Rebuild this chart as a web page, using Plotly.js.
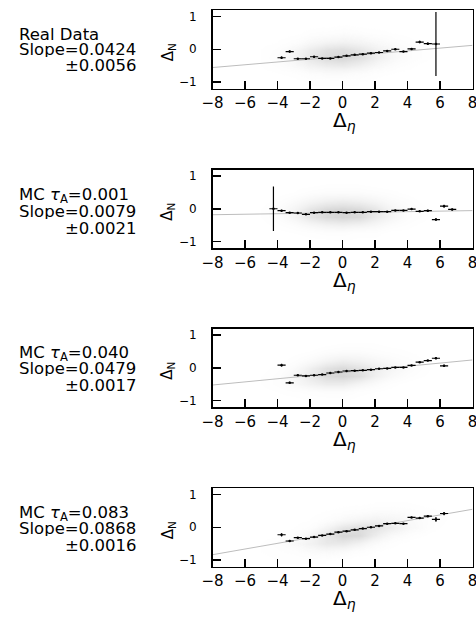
<!DOCTYPE html>
<html>
<head>
<meta charset="utf-8">
<script src="https://cdn.plot.ly/plotly-3.0.1.min.js"></script>
<style>html,body{margin:0;padding:0;background:#fff;}#chart{width:476px;height:618px;}</style>
</head>
<body>
<div id="chart"></div>
<script>
// ---------------- DATA ----------------
const panelLabels = ["Real Data", "MC <i>τ</i><sub>A</sub>=0.001", "MC <i>τ</i><sub>A</sub>=0.040", "MC <i>τ</i><sub>A</sub>=0.083"];
const slopeLabels = ["Slope=0.0424", "Slope=0.0079", "Slope=0.0479", "Slope=0.0868"];
const slopeErrLabels = ["±0.0056", "±0.0021", "±0.0017", "±0.0016"];

const fitSlopes = [0.0424, 0.0079, 0.0479, 0.0868];
const fitIntercepts = [-0.22, -0.12, -0.145, -0.145];

const binHalfWidth = 0.25;

const p1X = [-3.75,-3.25,-2.75,-2.25,-1.75,-1.25,-0.75,-0.25,0.25,0.75,1.25,1.75,2.25,2.75,3.25,3.75,4.25,4.75,5.25,5.75];
const p1Y = [-0.26,-0.07,-0.29,-0.29,-0.23,-0.28,-0.28,-0.24,-0.20,-0.17,-0.15,-0.12,-0.10,-0.05,0.00,-0.07,0.01,0.22,0.17,0.16];
const p1Err = [0.04,0.03,0.02,0.02,0.02,0.01,0.01,0.01,0.01,0.01,0.01,0.01,0.01,0.02,0.02,0.02,0.03,0.04,0.04,0.98];

const p2X = [-4.25,-3.75,-3.25,-2.75,-2.25,-1.75,-1.25,-0.75,-0.25,0.25,0.75,1.25,1.75,2.25,2.75,3.25,3.75,4.25,4.75,5.25,5.75,6.25,6.75];
const p2Y = [0.00,-0.06,-0.12,-0.13,-0.17,-0.12,-0.11,-0.11,-0.11,-0.12,-0.11,-0.11,-0.09,-0.09,-0.09,-0.05,-0.05,-0.01,-0.08,-0.06,-0.33,0.08,-0.02];
const p2Err = [0.68,0.03,0.02,0.01,0.01,0.01,0.01,0.01,0.01,0.01,0.01,0.01,0.01,0.01,0.01,0.01,0.01,0.02,0.02,0.03,0.04,0.04,0.03];

const p3X = [-3.75,-3.25,-2.75,-2.25,-1.75,-1.25,-0.75,-0.25,0.25,0.75,1.25,1.75,2.25,2.75,3.25,3.75,4.25,4.75,5.25,5.75,6.25];
const p3Y = [0.08,-0.46,-0.23,-0.25,-0.23,-0.21,-0.16,-0.13,-0.10,-0.09,-0.08,-0.06,-0.03,-0.02,0.01,0.01,0.07,0.17,0.22,0.29,0.06];
const p3Err = [0.04,0.03,0.02,0.01,0.01,0.01,0.01,0.01,0.01,0.01,0.01,0.01,0.01,0.01,0.01,0.01,0.02,0.02,0.02,0.03,0.03];

const p4X = [-3.75,-3.25,-2.75,-2.25,-1.75,-1.25,-0.75,-0.25,0.25,0.75,1.25,1.75,2.25,2.75,3.25,3.75,4.25,4.75,5.25,5.75,6.25];
const p4Y = [-0.23,-0.42,-0.32,-0.35,-0.30,-0.25,-0.21,-0.15,-0.12,-0.08,-0.04,0.00,0.04,0.11,0.12,0.11,0.30,0.28,0.34,0.24,0.42];
const p4Err = [0.05,0.03,0.02,0.01,0.01,0.01,0.01,0.01,0.01,0.01,0.01,0.01,0.01,0.01,0.01,0.01,0.02,0.02,0.03,0.07,0.05];

// Scatter-cloud density (estimated), grid centres
const cloudX = [-6,-5,-4,-3,-2,-1,0,1,2,3,4,5,6,7];
const cloudY = [-1.0,-0.75,-0.5,-0.25,0,0.25,0.5,0.75,1.0];
const cloud1 = [
 [0,0,0,.05,.1,.1,.1,.1,.05,0,0,0,0,0],
 [0,.05,.1,.15,.25,.3,.3,.25,.15,.1,.05,0,0,0],
 [0,.1,.2,.35,.5,.6,.65,.55,.4,.25,.15,.05,0,0],
 [.05,.1,.25,.45,.7,.85,.9,.8,.6,.4,.25,.15,.05,0],
 [.05,.1,.2,.4,.6,.75,.8,.7,.55,.4,.25,.15,.05,0],
 [0,.05,.1,.2,.35,.45,.5,.45,.35,.25,.15,.05,0,0],
 [0,0,.05,.05,.15,.2,.25,.2,.15,.1,.05,0,0,0],
 [0,0,0,0,.05,.05,.1,.05,.05,.05,0,0,0,0],
 [0,0,0,0,0,0,0,0,0,0,0,0,0,0]
];
const cloud2 = [
 [0,0,0,0,.05,.05,.1,.05,.05,0,0,0,0,0],
 [0,0,.05,.1,.15,.2,.2,.15,.15,.05,.05,0,0,0],
 [0,.05,.15,.25,.4,.5,.55,.5,.4,.25,.15,.05,0,0],
 [.05,.1,.25,.45,.7,.85,.9,.85,.65,.45,.25,.15,.05,0],
 [.05,.1,.25,.45,.7,.85,.9,.85,.7,.45,.25,.15,.05,0],
 [0,.05,.15,.3,.45,.55,.6,.55,.45,.3,.2,.05,0,0],
 [0,0,.05,.1,.2,.25,.25,.25,.2,.15,.05,0,0,0],
 [0,0,0,.05,.05,.1,.1,.1,.05,0,0,0,0,0],
 [0,0,0,0,0,0,0,0,0,0,0,0,0,0]
];
const cloud3 = [
 [0,0,.05,.05,.1,.1,.1,.05,0,0,0,0,0,0],
 [0,.05,.1,.15,.2,.25,.25,.15,.1,.05,0,0,0,0],
 [0,.1,.2,.35,.5,.6,.6,.45,.3,.15,.05,0,0,0],
 [.05,.1,.2,.4,.65,.85,.9,.8,.55,.35,.2,.1,0,0],
 [0,.05,.15,.3,.55,.75,.85,.75,.6,.45,.3,.15,.05,0],
 [0,0,.05,.15,.3,.45,.55,.5,.4,.3,.2,.1,.05,0],
 [0,0,0,.05,.1,.2,.25,.25,.2,.15,.1,.05,0,0],
 [0,0,0,0,0,.05,.1,.1,.1,.05,.05,0,0,0],
 [0,0,0,0,0,0,0,0,0,0,0,0,0,0]
];
const cloud4 = [
 [0,.05,.1,.1,.1,.1,.05,0,0,0,0,0,0,0],
 [.05,.1,.15,.2,.3,.35,.3,.2,.1,.05,0,0,0,0],
 [.05,.1,.2,.35,.5,.65,.65,.5,.3,.15,.05,0,0,0],
 [0,.05,.1,.2,.45,.7,.9,.85,.6,.35,.2,.1,0,0],
 [0,0,.05,.1,.2,.45,.7,.8,.75,.6,.4,.25,.1,0],
 [0,0,0,.05,.1,.2,.35,.45,.5,.45,.35,.25,.15,.05],
 [0,0,0,0,.05,.1,.15,.2,.25,.25,.2,.15,.1,0],
 [0,0,0,0,0,0,.05,.05,.1,.1,.1,.05,.05,0],
 [0,0,0,0,0,0,0,0,0,0,0,0,0,0]
];

const xTickVals = [-8,-6,-4,-2,0,2,4,6,8];
const yTickVals = [-1,0,1];
const xRange = [-8, 8];
const yRange = [-1.2, 1.2];

// ---------------- LAYOUT HELPERS ----------------
const W = 476, H = 618;
const fx = p => p / W;
const fy = p => 1 - p / H;
const plotLeft = 212.5, plotRight = 472.5, plotH = 78.5;
const panelTops = [10, 169.5, 328.5, 488];
const textCenters = [[34, 49.5, 65.5], [195, 212, 228.5], [353, 368.5, 385.5], [513, 528.5, 545]];
const FONT = "DejaVu Sans, Arial, sans-serif";

const profX = [p1X, p2X, p3X, p4X];
const profY = [p1Y, p2Y, p3Y, p4Y];
const profE = [p1Err, p2Err, p3Err, p4Err];
const clouds = [cloud1, cloud2, cloud3, cloud4];

const traces = [];
const layout = {
  width: W, height: H,
  margin: {l: 0, r: 0, t: 0, b: 0},
  paper_bgcolor: "#ffffff", plot_bgcolor: "#ffffff",
  showlegend: false,
  font: {family: FONT, color: "#000"},
  annotations: []
};

for (let i = 0; i < 4; i++) {
  const n = i === 0 ? "" : String(i + 1);
  const xa = "x" + n, ya = "y" + n;
  traces.push({
    type: "heatmap", x: cloudX, y: cloudY, z: clouds[i],
    xaxis: xa, yaxis: ya, zmin: 0, zmax: 1, zsmooth: "best",
    colorscale: [[0, "rgba(255,255,255,0)"], [1, "#cccccc"]],
    showscale: false, hoverinfo: "skip"
  });
  traces.push({
    type: "scatter", mode: "lines", xaxis: xa, yaxis: ya,
    x: xRange, y: xRange.map(v => fitIntercepts[i] + fitSlopes[i] * v),
    line: {color: "#bdbdbd", width: 1}, hoverinfo: "skip", cliponaxis: true
  });
  traces.push({
    type: "scatter", mode: "markers", xaxis: xa, yaxis: ya,
    x: profX[i], y: profY[i],
    marker: {size: 2.5, color: "#000"},
    error_x: {type: "constant", value: binHalfWidth, width: 0, thickness: 1.2, color: "#000"},
    error_y: {type: "data", array: profE[i], width: 0, thickness: 1.2, color: "#000"},
    cliponaxis: true
  });

  const top = panelTops[i];
  layout["xaxis" + n] = {
    domain: [fx(plotLeft), fx(plotRight)], anchor: ya, range: xRange,
    tickvals: xTickVals, ticks: "inside", ticklen: 8, tickwidth: 1.5, tickcolor: "#000",
    showline: true, linewidth: 1.5, linecolor: "#000", mirror: true,
    showgrid: false, zeroline: false, fixedrange: true,
    ticklabeloverflow: "allow",
    tickfont: {family: FONT, size: 15, color: "#000"}
  };
  layout["yaxis" + n] = {
    domain: [fy(top + plotH), fy(top)], anchor: xa, range: yRange,
    tickvals: yTickVals, ticks: "inside", ticklen: 8, tickwidth: 1.5, tickcolor: "#000",
    showline: true, linewidth: 1.5, linecolor: "#000", mirror: true,
    showgrid: false, zeroline: false, fixedrange: true,
    ticklabelstandoff: 12,
    tickfont: {family: FONT, size: 12, color: "#000"}
  };
  const zeroPx = top + plotH / 2;
  layout.annotations.push({
    xref: "paper", yref: "paper", x: fx(168), y: fy(zeroPx + 3),
    xanchor: "center", yanchor: "middle", textangle: -90, showarrow: false,
    text: "Δ<sub>N</sub>", font: {family: FONT, size: 15, color: "#000"}
  });
  layout.annotations.push({
    xref: "paper", yref: "paper", x: fx(344), y: fy(top + 111),
    xanchor: "center", yanchor: "middle", showarrow: false,
    text: "Δ<sub><i>η</i></sub>", font: {family: FONT, size: 20, color: "#000"}
  });
  const tc = textCenters[i];
  layout.annotations.push({
    xref: "paper", yref: "paper", x: fx(17), y: fy(tc[0]),
    xanchor: "left", yanchor: "middle", showarrow: false, height: 15,
    text: panelLabels[i], font: {family: FONT, size: 16.5, color: "#000"}
  });
  layout.annotations.push({
    xref: "paper", yref: "paper", x: fx(17), y: fy(tc[1]),
    xanchor: "left", yanchor: "middle", showarrow: false, height: 15,
    text: slopeLabels[i], font: {family: FONT, size: 16.5, color: "#000"}
  });
  layout.annotations.push({
    xref: "paper", yref: "paper", x: fx(139), y: fy(tc[2]),
    xanchor: "right", yanchor: "middle", showarrow: false, height: 15,
    text: slopeErrLabels[i], font: {family: FONT, size: 16.5, color: "#000"}
  });
}

Plotly.newPlot("chart", traces, layout, {staticPlot: true, displayModeBar: false});
</script>
</body>
</html>
